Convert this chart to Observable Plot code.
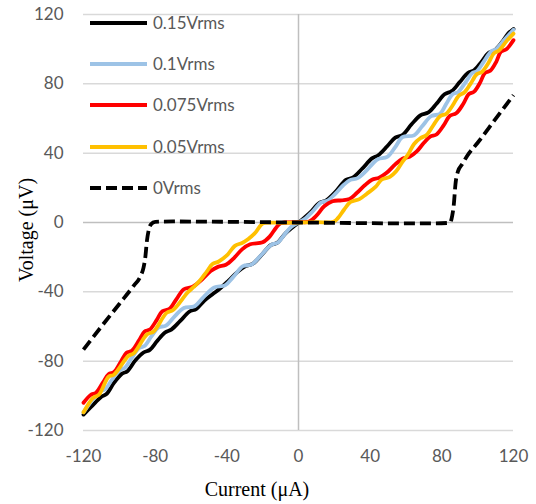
<!DOCTYPE html>
<html>
<head>
<meta charset="utf-8">
<script src="https://cdn.jsdelivr.net/npm/d3@7"></script>
<script src="https://cdn.jsdelivr.net/npm/@observablehq/plot@0.6"></script>
<style>
  html, body { margin: 0; padding: 0; background: #fff; }
  #wrap { position: relative; width: 536px; height: 504px; overflow: hidden; background: #fff; }
  #chart svg { display: block; }
  .leg-row { position: absolute; left: 0; height: 20px; }
  .leg-text { position: absolute; left: 153px; top: 0; line-height: 20px; font-family: Lato, "Open Sans", sans-serif; font-size: 17px; color: #595959; white-space: nowrap; }
  .leg-line { position: absolute; left: 90px; top: 0; }
  .axis-title { position: absolute; font-family: "Liberation Serif", "Times New Roman", serif; font-size: 20px; line-height: 20px; color: #000; text-align: center; white-space: nowrap; }
</style>
</head>
<body>
<div id="wrap">
  <div id="chart"></div>
  <div id="legend"></div>
  <div class="axis-title" id="xtitle" style="left:157px; top:479px; width:200px;">Current (μA)</div>
  <div class="axis-title" id="ytitle" style="left:-74px; top:220px; width:200px; transform: rotate(-90deg);">Voltage (μV)</div>
</div>
<script>
// ---- Data ----
const xTicks = [-120, -80, -40, 0, 40, 80, 120];
const yTicks = [-120, -80, -40, 0, 40, 80, 120];

const seriesNames = ["0.15Vrms", "0.1Vrms", "0.075Vrms", "0.05Vrms", "0Vrms"];
const seriesColors = ["#000000", "#9dc3e6", "#ff0000", "#ffc000", "#000000"];

// [current µA, voltage µV]
const v015 = [[-120,-110.8],[-114,-104.5],[-110,-100.5],[-107,-98.8],[-103,-92.5],[-98.5,-87.2],[-95.5,-85.8],[-91,-79.5],[-86.5,-75],[-83,-73.5],[-79,-68.5],[-74.5,-63.5],[-71,-61.8],[-66,-56.8],[-61,-51.5],[-57,-49.8],[-52.5,-45],[-47.5,-41],[-43.5,-37.8],[-39,-33.5],[-34,-28.5],[-29.5,-25.2],[-25.5,-23.8],[-20,-18],[-15.5,-13],[-12,-11.8],[-7,-6],[0,0],[6,5.2],[11.5,11.2],[15.5,12.8],[20.5,17.5],[26.5,24.6],[30.5,26],[35.5,31],[41,37],[44.5,38.8],[49.5,44],[54,49],[58,50.5],[63,56.5],[68,61.8],[72.5,63.5],[77,68.5],[81.5,74],[85.5,75.8],[90,81],[94.5,86.2],[98,87.8],[102,92.5],[106,97.8],[109.5,99.4],[113.5,104],[117,109],[120,111.7]];

const v01 = [[-120,-109.5],[-115.5,-103],[-111,-97.5],[-108,-96.3],[-104,-90.5],[-99.5,-85],[-97,-84],[-93,-78],[-89,-72.5],[-86,-71.3],[-82,-65.5],[-78,-60.5],[-74,-59.5],[-69,-54],[-64,-49.3],[-58,-48.3],[-53,-43],[-47,-37.5],[-41,-36.3],[-36.5,-31.5],[-31,-25.2],[-26,-24.2],[-21.5,-19.5],[-15,-12.8],[-11.5,-11.5],[-7.5,-6.5],[-4,-2.5],[0,0],[4,2.5],[8,6.5],[12.5,11.5],[16.5,12.8],[20.5,16.5],[25,21.5],[29,24.6],[33,25.6],[37.5,29.5],[41.5,34],[44.5,36.6],[49.5,37.8],[54,43.5],[58,49.2],[64.5,50.3],[69,55.5],[74,61.3],[79,62.8],[82.5,68.5],[86,74],[89,75.2],[93,80.5],[97,86.3],[99.5,87.3],[103.5,93],[107.5,98.7],[110,99.8],[115,105.5],[120,111.2]];

const v0075 = [[-120,-104],[-116,-99.5],[-113,-98.2],[-109,-92],[-106,-87.5],[-103,-86.3],[-99,-80],[-96,-75.2],[-93,-74],[-89,-68],[-86,-63],[-83,-61.8],[-79,-56],[-76,-51.2],[-72,-49.8],[-68,-44],[-64,-38.5],[-59,-37],[-54,-33],[-49,-28],[-45,-25.6],[-40.5,-24.4],[-36,-20.5],[-31.5,-15.5],[-27,-12.6],[-20,-11.4],[-16,-8],[-12.5,-3],[-10,-0.5],[0,0.2],[6,0.5],[10,4],[14.5,9.5],[19,12.3],[24,12.8],[28.5,13.6],[32.5,17],[37,21.5],[41,24.7],[45,25.8],[49,28.5],[54,33.5],[58,36.8],[62,37.9],[66,41],[70,46],[73.5,49.6],[77,50.8],[81,56],[84.5,61.6],[88,63],[92,68.5],[95,74],[98,75.5],[101.5,81],[104,86.2],[107,87.5],[110.5,93],[113,98.6],[116,100],[120,105.2]];

const v005 = [[-120,-109.5],[-114.5,-101],[-111.5,-99.5],[-106,-89],[-103,-87.8],[-95,-77],[-92,-75.5],[-84.5,-64.5],[-81,-63],[-73.5,-52],[-70,-50.5],[-62,-40.5],[-58.5,-37.2],[-55,-33.5],[-51,-28],[-48,-24],[-44.5,-22.5],[-40,-19],[-35.5,-13.5],[-31.5,-11.8],[-28,-9.5],[-24,-5.8],[-21,-1.5],[-19,-0.3],[-10,-0.2],[0,0],[10,0.2],[19.5,0.4],[22,2.5],[25.5,7.5],[29,11.8],[34,13.5],[38,16.5],[43,20.5],[46.5,24.8],[51,26.3],[54.5,29.5],[58,35],[61,39],[64.5,45.3],[68,48.6],[71.5,50.5],[75.5,56.5],[79,61.3],[82.5,62.8],[86,67.5],[89.5,73.2],[92.5,75],[96,80],[99.5,85.5],[102.5,87],[106,92],[109,97.5],[112,99.3],[116,104.5],[120,109]];

const v0 = [[-120,-73.3],[-110,-60],[-100,-47],[-92,-36.5],[-88.3,-31.2],[-86.5,-26],[-85.5,-20],[-84.6,-10.6],[-83.5,-4],[-82.3,-1],[-80,0.4],[-70,0.6],[-55,0.5],[-40,0.4],[-20,0.2],[0,0],[20,-0.2],[40,-0.4],[60,-0.5],[75,-0.5],[84.5,-0.2],[85.8,4],[86.7,10.5],[87.6,22],[89,29.5],[91.4,33.7],[94.2,38.5],[100,46],[110,59.8],[120,73.5]];

const seriesData = [v015, v01, v0075, v005, v0];

// ---- Chart ----
const lineMarks = seriesData.map((data, i) => Plot.line(data, {
  x: d => d[0], y: d => d[1],
  stroke: seriesColors[i],
  strokeWidth: 3.8,
  strokeDasharray: i === 4 ? "11,5" : null,
  strokeLinejoin: "round",
  strokeLinecap: i === 4 ? "butt" : "round",
  curve: i === 4 ? "monotone-x" : "catmull-rom"
}));

const chart = Plot.plot({
  width: 536,
  height: 504,
  marginLeft: 83,
  marginRight: 23,
  marginTop: 14,
  marginBottom: 74,
  style: { fontFamily: "Lato, 'Open Sans', sans-serif", fontSize: "17px", color: "#595959", background: "#fff" },
  x: { domain: [-120, 120], ticks: xTicks, tickSize: 0, tickPadding: 19, tickFormat: d => String(d), label: null },
  y: { domain: [-120, 120], ticks: yTicks, tickSize: 0, tickPadding: 20, tickFormat: d => String(d), label: null },
  marks: [
    Plot.ruleY(yTicks.filter(d => d !== 0), { stroke: "#d9d9d9", strokeWidth: 1.5 }),
    Plot.ruleY([0], { stroke: "#bfbfbf", strokeWidth: 1.5 }),
    Plot.ruleX([0], { stroke: "#bfbfbf", strokeWidth: 1.5 }),
    ...lineMarks
  ]
});
document.getElementById("chart").appendChild(chart);

// ---- Legend ----
const legendTops = [23, 64, 105, 147, 188];
const legend = document.getElementById("legend");
seriesNames.forEach((name, i) => {
  const row = document.createElement("div");
  row.className = "leg-row";
  row.style.top = (legendTops[i] - 10) + "px";
  const dash = i === 4 ? ' stroke-dasharray="11,5"' : '';
  row.innerHTML = `<svg class="leg-line" width="58" height="20"><line x1="0" x2="57" y1="10" y2="10" stroke="${seriesColors[i]}" stroke-width="3.8"${dash}/></svg><span class="leg-text">${name}</span>`;
  legend.appendChild(row);
});
</script>
</body>
</html>
